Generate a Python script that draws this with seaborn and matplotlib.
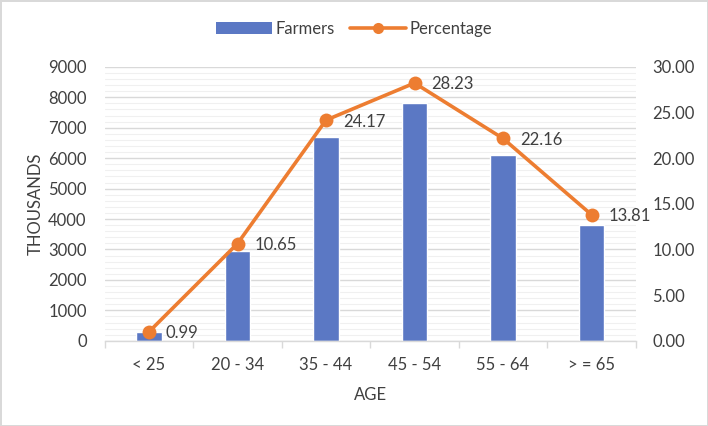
import numpy as np
import pandas as pd
import matplotlib
matplotlib.use("Agg")
import matplotlib.pyplot as plt
from matplotlib.ticker import MultipleLocator, FixedLocator
from matplotlib.lines import Line2D
from matplotlib.patches import Patch
import seaborn as sns

# data
age_groups = ["< 25", "20 - 34", "35 - 44", "45 - 54", "55 - 64", "> = 65"]
farmers = [280, 2960, 6680, 7800, 6120, 3810]
percentage = [0.99, 10.65, 24.17, 28.23, 22.16, 13.81]

BLUE = "#5B78C4"
ORANGE = "#ED7D31"
GRID = "#D9D9D9"
TEXT = "#404040"

sns.set_theme(style="white")
plt.rcParams["font.family"] = ["Lato", "DejaVu Sans"]

df = pd.DataFrame({"age": age_groups, "farmers": farmers, "pct": percentage})
df["pos"] = np.arange(len(df))

fig = plt.figure(figsize=(7.08, 4.26), dpi=100)
ax = fig.add_axes([0.148, 0.2, 0.75, 0.643])

sns.barplot(data=df, x="age", y="farmers", color=BLUE, width=0.29,
            saturation=1, ax=ax)
ax.set_ylim(0, 9000)
ax.yaxis.set_major_locator(MultipleLocator(1000))
ax.yaxis.set_minor_locator(MultipleLocator(200))
ax.grid(axis="y", which="major", color=GRID, linewidth=1.0)
ax.grid(axis="y", which="minor", color="#F0F0F0", linewidth=0.8)
ax.set_axisbelow(True)
for s in ["top", "right", "left"]:
    ax.spines[s].set_visible(False)
ax.spines["bottom"].set_color(GRID)
ax.spines["bottom"].set_linewidth(1.0)
ax.set_xlim(-0.5, len(age_groups) - 0.5)
ax.xaxis.set_minor_locator(FixedLocator(np.arange(-0.5, len(age_groups), 1.0)))
ax.tick_params(axis="x", which="major", length=0, labelsize=12, colors=TEXT, pad=12)
ax.tick_params(axis="x", which="minor", length=5, color=GRID, width=1.0, bottom=True)
ax.tick_params(axis="y", which="both", length=0, labelsize=12, colors=TEXT, pad=13)
ax.set_xlabel("AGE", fontsize=12, color=TEXT, labelpad=10)
ax.set_ylabel("THOUSANDS", fontsize=12, color=TEXT, labelpad=3)

ax2 = ax.twinx()
sns.lineplot(data=df, x="pos", y="pct", color=ORANGE, linewidth=2.6,
             marker="o", markersize=10, markeredgewidth=0, ax=ax2)
ax2.set_ylim(0, 30)
ax2.yaxis.set_major_locator(MultipleLocator(5))
ax2.yaxis.set_major_formatter(matplotlib.ticker.FormatStrFormatter("%.2f"))
ax2.tick_params(axis="y", length=0, labelsize=12, colors=TEXT, pad=12)
ax2.set_ylabel("")
ax2.set_xlabel("")
ax2.grid(False)
for s in ["top", "right", "left", "bottom"]:
    ax2.spines[s].set_visible(False)
ax2.set_xlim(-0.5, len(age_groups) - 0.5)

for x, y in zip(df["pos"], df["pct"]):
    ax2.annotate(f"{y:.2f}", (x, y), xytext=(12, -1), textcoords="offset points",
                 ha="left", va="center", fontsize=12, color=TEXT)

handles = [Patch(facecolor=BLUE, edgecolor="none"),
           Line2D([], [], color=ORANGE, linewidth=2.6, marker="o",
                  markersize=8, markeredgewidth=0)]
fig.legend(handles, ["Farmers", "Percentage"], loc="center",
           bbox_to_anchor=(0.5, 0.932), ncol=2, frameon=False,
           fontsize=12, handlelength=3.4, columnspacing=0.9,
           handletextpad=0.2, labelcolor=TEXT)

fig.patch.set_edgecolor("#D9D9D9")
fig.patch.set_linewidth(2)

fig.savefig("out.png", dpi=100, edgecolor=fig.get_edgecolor())
